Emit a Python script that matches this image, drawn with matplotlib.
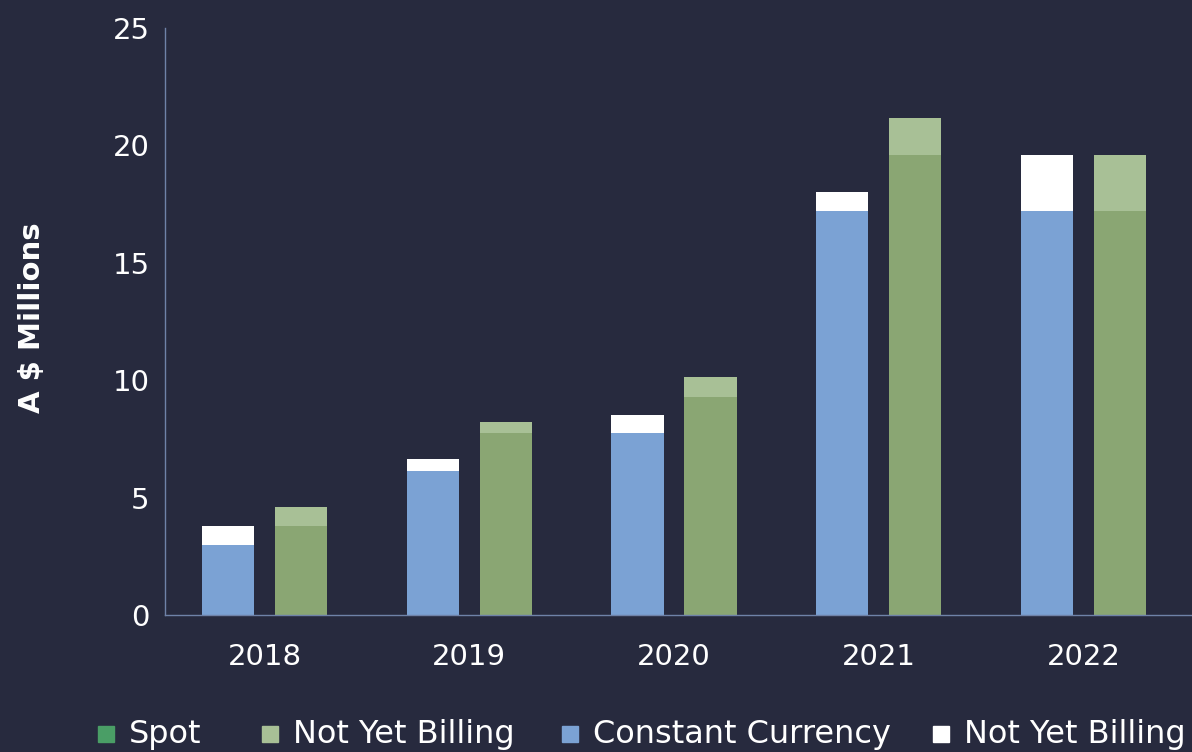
import matplotlib.pyplot as plt
import numpy as np
from matplotlib.patches import Rectangle

# ==========================
# DATA
# ==========================
years = ['2018', '2019', '2020', '2021', '2022']
constant_currency = [3.0, 6.15, 7.75, 17.2, 17.22]
cc_not_yet_billing = [0.8, 0.48, 0.75, 0.8, 2.38]
spot = [3.8, 7.75, 9.3, 19.6, 17.22]
spot_not_yet_billing = [0.78, 0.45, 0.82, 1.56, 2.38]

legend_labels = ['Spot', 'Not Yet Billing', 'Constant Currency', 'Not Yet Billing']

BG = '#272a3e'
BLUE = '#7ba2d4'
GREEN = '#8aa673'
LIGHT_GREEN = '#a8c096'
SPOT_LEGEND = '#4a9e66'
TEXT = 'white'

plt.rcParams['font.family'] = ['DejaVu Sans']

fig = plt.figure(figsize=(11.92, 7.52), dpi=100, facecolor=BG)
ax = fig.add_axes([0.1384, 0.1822, 0.8616, 0.7806], facecolor=BG)

x = np.arange(len(years))
w = 0.255
off = 0.178

ax.bar(x - off, constant_currency, w, color=BLUE)
ax.bar(x - off, cc_not_yet_billing, w, bottom=constant_currency, color='white')
ax.bar(x + off, spot, w, color=GREEN)
ax.bar(x + off, spot_not_yet_billing, w, bottom=spot, color=LIGHT_GREEN)

ax.set_xlim(-0.486, 4.53)
ax.set_ylim(0, 25)
ax.set_yticks([0, 5, 10, 15, 20, 25])
ax.set_xticks(x)
ax.set_xticklabels(years)
ax.tick_params(axis='both', length=0, colors=TEXT, labelsize=21)
ax.tick_params(axis='y', pad=11)
ax.tick_params(axis='x', pad=20)

for side in ['top', 'right']:
    ax.spines[side].set_visible(False)
for side in ['left', 'bottom']:
    ax.spines[side].set_color('#6f82a8')
    ax.spines[side].set_linewidth(1)

fig.text(0.027, 0.578, 'A $ Millions', rotation=90, color=TEXT,
         fontsize=21, fontweight='bold', ha='center', va='center')

# legend drawn by hand so the item spacing follows the original
W, H = 1192, 752
legend_colors = [SPOT_LEGEND, LIGHT_GREEN, BLUE, 'white']
square_x = [98, 262, 562, 933]
y_mid = 734
sq = 16
for lab, col, sx in zip(legend_labels, legend_colors, square_x):
    fig.patches.append(Rectangle((sx / W, (H - y_mid - sq / 2) / H), sq / W, sq / H,
                                 transform=fig.transFigure, color=col))
    fig.text((sx + 31) / W, (H - y_mid) / H, lab, color=TEXT, fontsize=23,
             ha='left', va='center')

fig.savefig('out.png', dpi=100, facecolor=BG)
